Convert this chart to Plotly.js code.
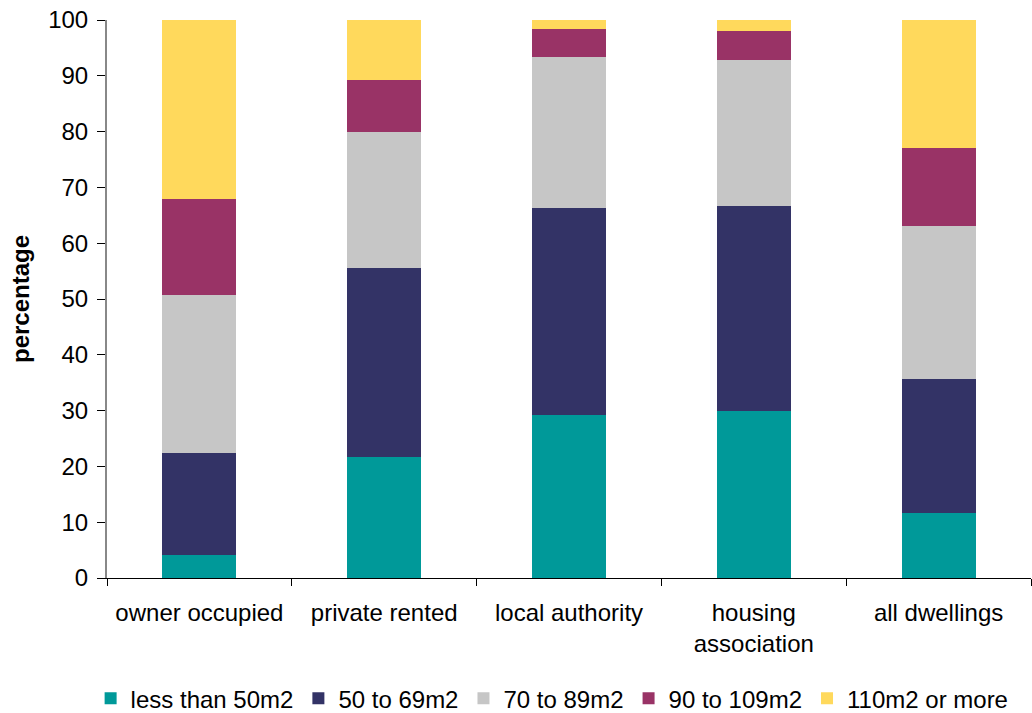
<!DOCTYPE html>
<html>
<head>
<meta charset="utf-8">
<script src="https://cdn.plot.ly/plotly-3.0.1.min.js"></script>
<style>html,body{margin:0;padding:0;background:#fff;}#chart{width:1032px;height:713px;}</style>
</head>
<body>
<div id="chart"></div>
<script>
const categories = ["owner occupied", "private rented", "local authority", "housing<br>association", "all dwellings"];
const seriesNames = ["less than 50m2", "50 to 69m2", "70 to 89m2", "90 to 109m2", "110m2 or more"];
const lessThan50 = [4.1, 21.7, 29.2, 30.0, 11.6];
const from50to69 = [18.3, 33.9, 37.1, 36.7, 24.1];
const from70to89 = [28.4, 24.4, 27.1, 26.1, 27.3];
const from90to109 = [17.1, 9.2, 5.0, 5.3, 14.0];
const over110 = [32.1, 10.8, 1.6, 1.9, 23.0];
const seriesValues = [lessThan50, from50to69, from70to89, from90to109, over110];
const colors = ["#009999", "#333366", "#C6C6C6", "#993366", "#FFD95C"];

const traces = seriesNames.map((name, i) => ({
  type: "bar",
  name: name,
  x: categories,
  y: seriesValues[i],
  marker: {color: colors[i], line: {width: 0}},
  width: 0.4,
  hoverinfo: "skip"
}));

const layout = {
  width: 1032, height: 713,
  barmode: "stack",
  margin: {l: 107, r: 1, t: 20, b: 135},
  paper_bgcolor: "#fff", plot_bgcolor: "#fff",
  font: {family: "Liberation Sans, Arial, sans-serif", color: "#000"},
  showlegend: true,
  legend: {
    orientation: "h", x: 0.535, xref: "container", xanchor: "center",
    y: 0.02, yref: "container", yanchor: "middle",
    font: {size: 24, color: "#000"}, traceorder: "normal",
    itemwidth: 30, itemclick: false, tracegroupgap: 0
  },
  xaxis: {
    type: "category",
    tickson: "boundaries",
    ticks: "outside", ticklen: 7, tickcolor: "#000", tickwidth: 1,
    showline: true, linecolor: "#000", linewidth: 1,
    showgrid: false, zeroline: false,
    tickfont: {size: 24, color: "#000"},
    ticklabelstandoff: 13,
    fixedrange: true
  },
  yaxis: {
    range: [0, 100], dtick: 10,
    ticks: "outside", ticklen: 8, tickcolor: "#000", tickwidth: 1,
    showline: true, linecolor: "#888", linewidth: 2,
    showgrid: false, zeroline: false,
    tickfont: {size: 24, color: "#000"},
    ticklabelstandoff: 4,
    title: {text: "<b>percentage</b>", font: {size: 24, color: "#000"}, standoff: 12},
    fixedrange: true
  }
};

Plotly.newPlot("chart", traces, layout, {displayModeBar: false, staticPlot: true});
</script>
</body>
</html>
